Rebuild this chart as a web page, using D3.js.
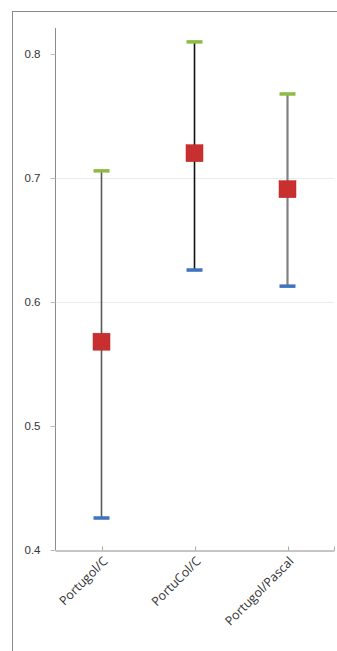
<!DOCTYPE html>
<html>
<head>
<meta charset="utf-8">
<script src="https://cdn.jsdelivr.net/npm/d3@7"></script>
<style>
html,body{margin:0;padding:0;background:#fff;}
svg{display:block;}
</style>
</head>
<body>
<svg id="chart" width="337" height="651"></svg>
<script>
const categories = ["Portugol/C", "PortuCol/C", "Portugol/Pascal"];
const highValues = [0.706, 0.810, 0.768];
const meanValues = [0.568, 0.720, 0.691];
const lowValues  = [0.426, 0.626, 0.613];
const yTicks = [0.4, 0.5, 0.6, 0.7, 0.8];
const gridValues = [0.6, 0.7];
const lineColors = ["#5a5a5a", "#111111", "#808080"];
const lineWidths = [1.6, 1.6, 2.2];

const svg = d3.select("#chart");
const margin = {left: 55, right: 3, top: 28, bottom: 101};

// outer frame
svg.append("rect").attr("x", 12.5).attr("y", 11.5).attr("width", 340).attr("height", 660)
  .attr("fill", "none").attr("stroke", "#8a8a8a").attr("stroke-width", 1);

const x = d3.scaleBand().domain(categories).range([margin.left, 334]).padding(0);
const y = d3.scaleLinear().domain([0.4, 0.821]).range([550, margin.top]);

// gridlines
svg.append("g").selectAll("line").data(gridValues).join("line")
  .attr("x1", margin.left).attr("x2", 334)
  .attr("y1", d => Math.round(y(d)) + 0.5).attr("y2", d => Math.round(y(d)) + 0.5)
  .attr("stroke", "#ebebeb").attr("stroke-width", 1);

// y axis
const yAxis = d3.axisLeft(y).tickValues(yTicks).tickFormat(d3.format(".1f")).tickSize(5).tickPadding(10);
const gy = svg.append("g").attr("transform", `translate(${margin.left + 0.5},0)`).call(yAxis);
gy.select(".domain").attr("stroke", "#8c8c8c").attr("d", `M-0.0,${y(0.821)}V${y(0.4)}`);
gy.selectAll(".tick line").attr("stroke", "#bbbbbb");
gy.selectAll(".tick text").attr("font-family", "Liberation Sans, Arial, sans-serif")
  .attr("font-size", 11.5).attr("fill", "#333");

// x axis
const xAxis = d3.axisBottom(x).tickSize(0).tickFormat("");
const gx = svg.append("g").attr("transform", `translate(0,${Math.round(y(0.4)) + 0.5})`).call(xAxis);
gx.select(".domain").attr("stroke", "#8c8c8c");
gx.selectAll(".tick").remove();
const tickPositions = categories.map(c => x(c) + x.bandwidth() / 2).concat([x.range()[1]]);
gx.selectAll("line.tk").data(tickPositions).join("line").attr("class", "tk")
  .attr("x1", d => Math.round(d) + 0.5).attr("x2", d => Math.round(d) + 0.5)
  .attr("y1", -4).attr("y2", 0).attr("stroke", "#aaaaaa");

// x labels rotated
svg.append("g").selectAll("text").data(categories).join("text")
  .attr("transform", d => `translate(${x(d) + x.bandwidth() / 2 + 7},${y(0.4) + 12}) rotate(-45)`)
  .attr("text-anchor", "end")
  .attr("font-family", "Open Sans, Liberation Sans, sans-serif")
  .attr("font-size", 12.5).attr("fill", "#333")
  .text(d => d);

const cx = c => x(c) + x.bandwidth() / 2;

// vertical lines
svg.append("g").selectAll("line").data(categories).join("line")
  .attr("x1", cx).attr("x2", cx)
  .attr("y1", (d, i) => y(highValues[i])).attr("y2", (d, i) => y(lowValues[i]))
  .attr("stroke", (d, i) => lineColors[i]).attr("stroke-width", (d, i) => lineWidths[i]);

// high caps (green)
svg.append("g").selectAll("rect").data(categories).join("rect")
  .attr("x", d => cx(d) - 8).attr("y", (d, i) => y(highValues[i]) - 1.5)
  .attr("width", 16).attr("height", 3.5).attr("fill", "#8cbc43");

// low caps (blue)
svg.append("g").selectAll("rect").data(categories).join("rect")
  .attr("x", d => cx(d) - 8).attr("y", (d, i) => y(lowValues[i]) - 1.5)
  .attr("width", 16).attr("height", 3.5).attr("fill", "#3f72c0");

// mean markers (red squares)
svg.append("g").selectAll("rect").data(categories).join("rect")
  .attr("x", d => cx(d) - 8.5).attr("y", (d, i) => y(meanValues[i]) - 8.5)
  .attr("width", 17).attr("height", 17).attr("fill", "#c8302f")
  .attr("stroke", "#b52727").attr("stroke-width", 0.5);
</script>
</body>
</html>
